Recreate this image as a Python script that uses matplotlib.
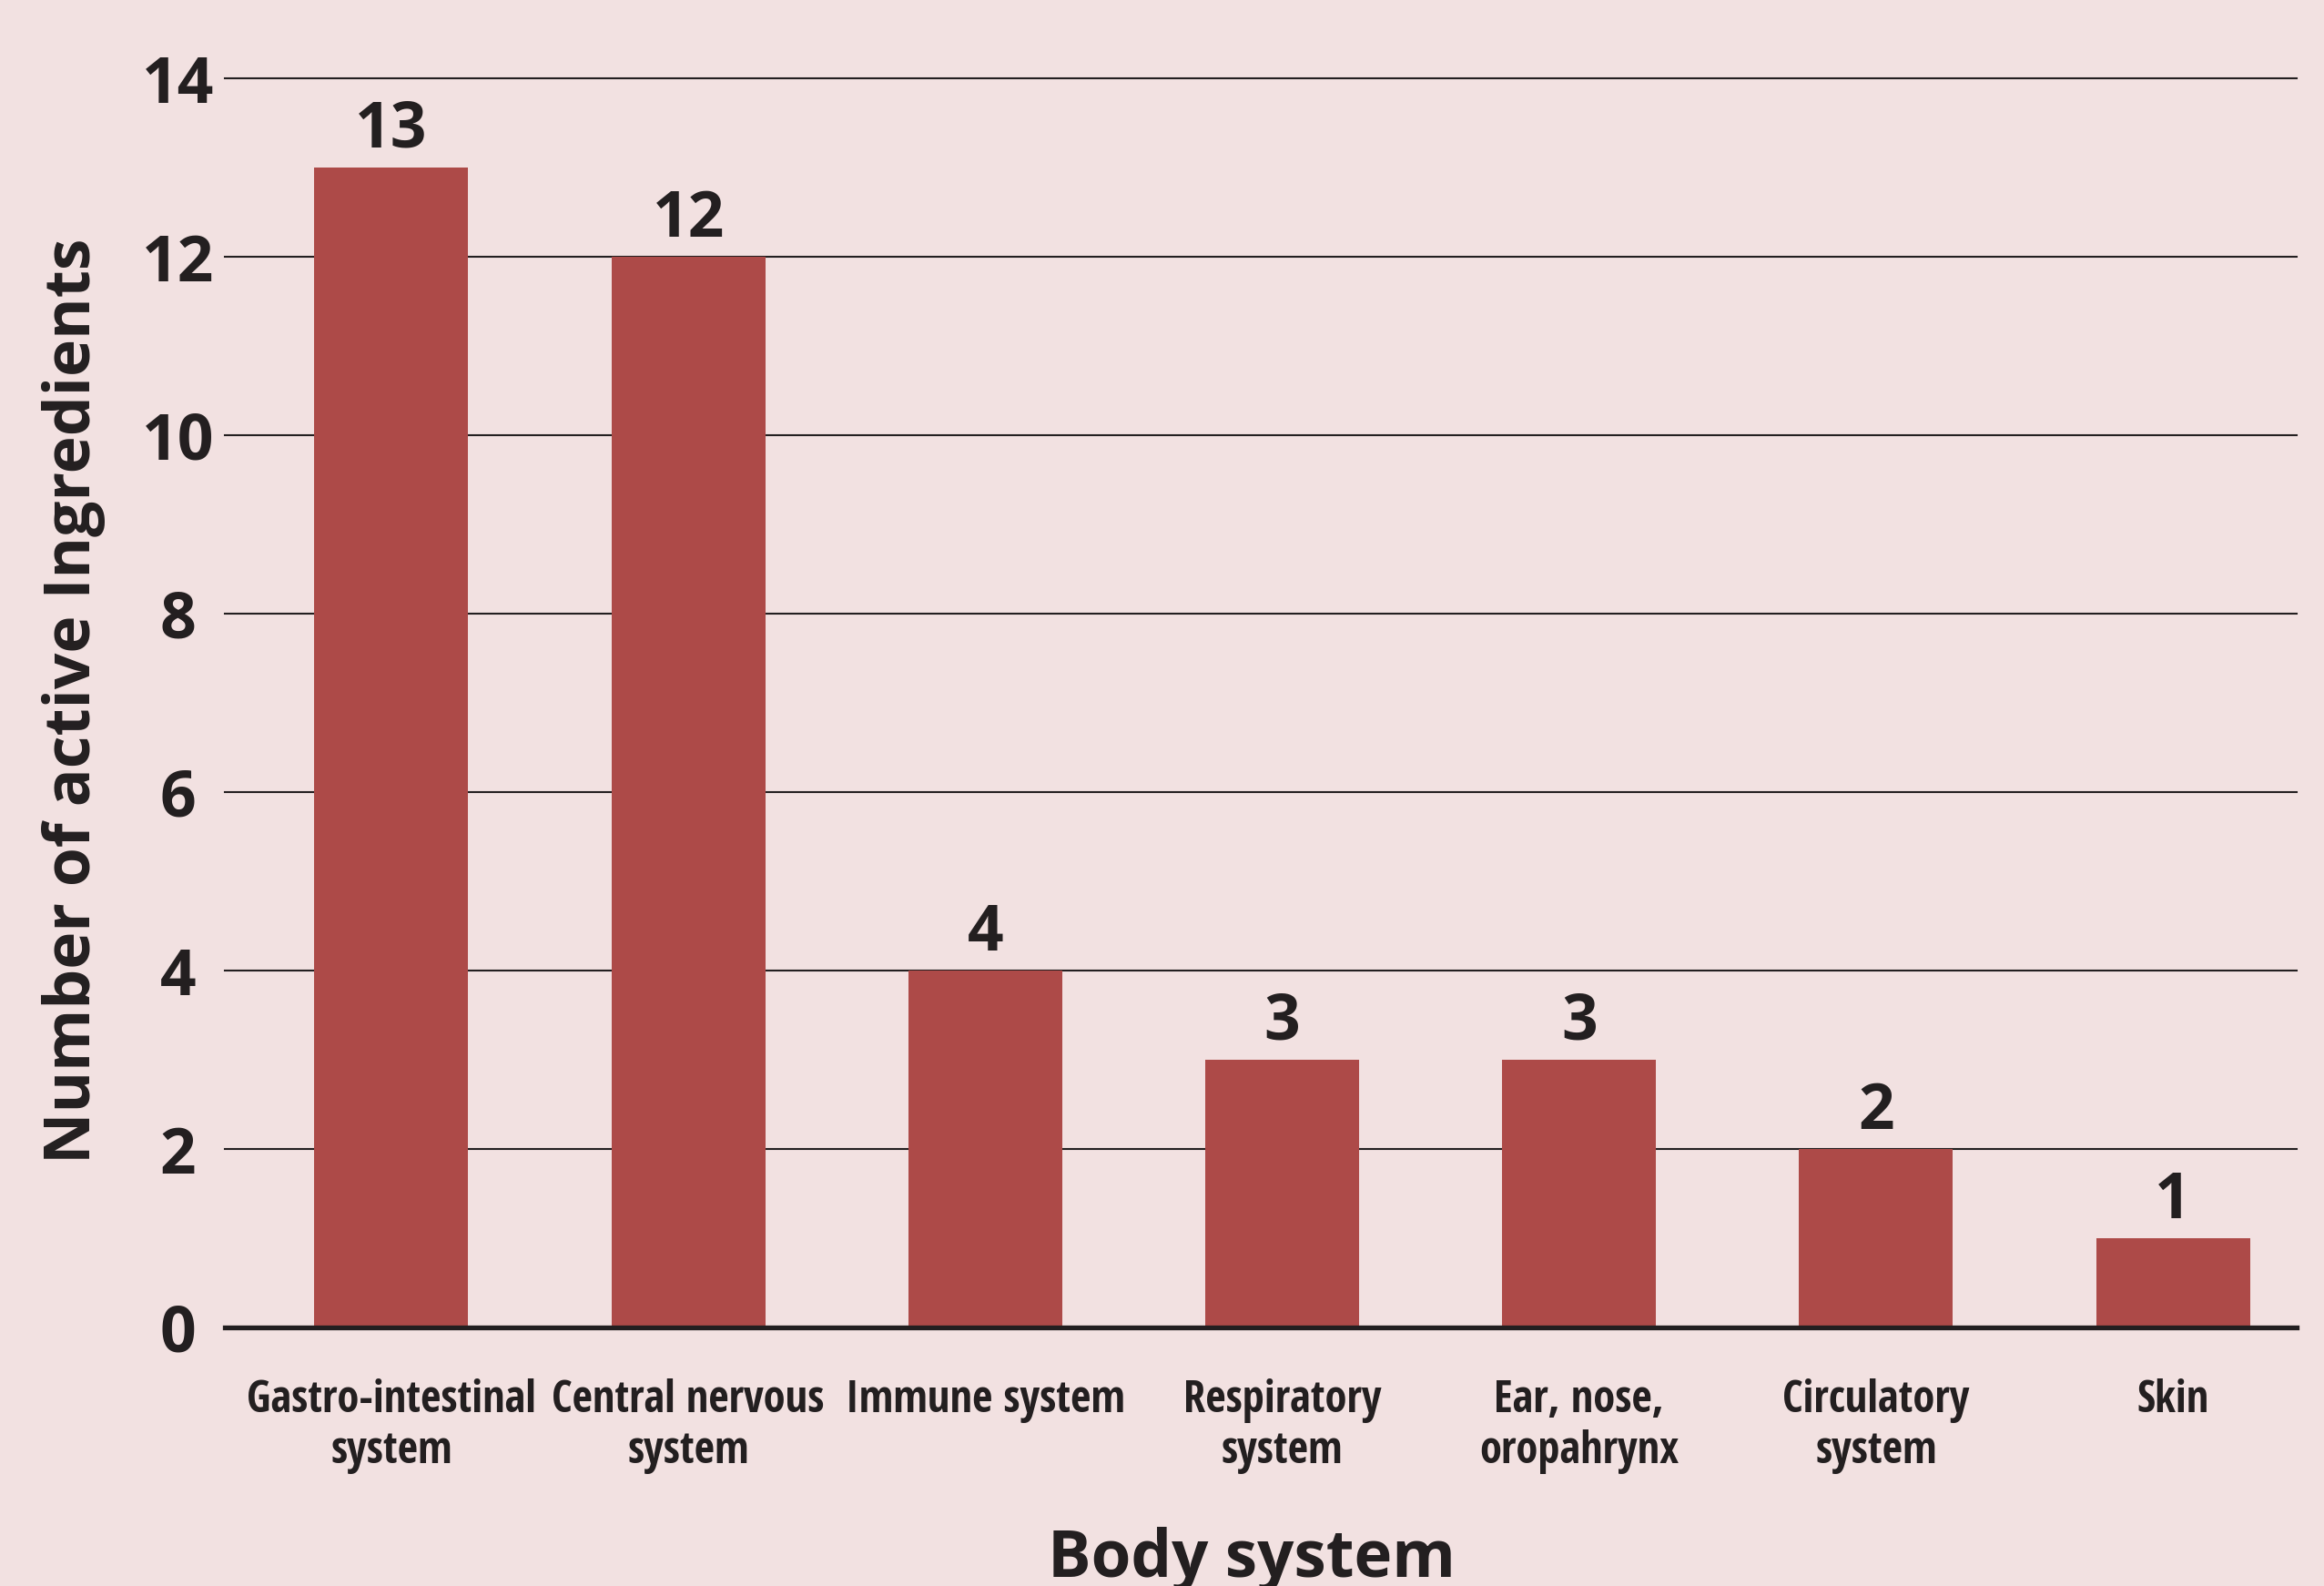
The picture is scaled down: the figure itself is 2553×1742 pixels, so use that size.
"""Bar chart: number of active ingredients per body system."""
import numpy as np
import matplotlib
matplotlib.use("Agg")
import matplotlib.pyplot as plt
from matplotlib import font_manager

# data
systems = ['Gastro-intestinal\nsystem', 'Central nervous\nsystem', 'Immune system',
           'Respiratory\nsystem', 'Ear, nose,\noropahrynx', 'Circulatory\nsystem', 'Skin']
counts = [13, 12, 4, 3, 3, 2, 1]
y_ticks = [0, 2, 4, 6, 8, 10, 12, 14]

# colours
bg_color = '#F2E1E1'
bar_color = '#AD4A48'
ink = '#231F20'


def pick_narrow_font():
    """Find a condensed bold face for the category labels, if one is installed."""
    for name in ['Open Sans Condensed', 'Liberation Sans Narrow', 'Roboto Condensed']:
        try:
            font_manager.findfont(font_manager.FontProperties(family=name, weight='bold'),
                                  fallback_to_default=False)
            return {'family': name}, 35
        except ValueError:
            pass
    # DejaVu ships a condensed cut under the same family name
    path = font_manager.findfont(font_manager.FontProperties(family='DejaVu Sans', weight='bold',
                                                             stretch='condensed'))
    if 'Condensed' in path:
        return {'family': 'DejaVu Sans', 'fontstretch': 'condensed'}, 30
    return {'family': 'Roboto'}, 30


label_font, label_size = pick_narrow_font()

fig = plt.figure(figsize=(25.53, 17.42), dpi=100, facecolor=bg_color)
ax = fig.add_axes([0.0967, 0.1630, 0.9882 - 0.0967, 0.9506 - 0.1630])
ax.set_facecolor(bg_color)

x = np.arange(len(systems))
bars = ax.bar(x, counts, width=0.518, color=bar_color, zorder=3)

# value labels above each bar
for rect, val in zip(bars, counts):
    ax.annotate(str(val), (rect.get_x() + rect.get_width() / 2, rect.get_height()),
                xytext=(0, 16), textcoords='offset points', ha='center', va='baseline',
                fontsize=50, fontweight='bold', family='Open Sans', color=ink)

ax.set_xlim(-0.561, 6.416)
ax.set_ylim(0, 14)

# horizontal grid lines
ax.set_yticks(y_ticks)
ax.yaxis.grid(True, color=ink, linewidth=1.5, zorder=1)
ax.set_axisbelow(True)
for line in ax.get_ygridlines():
    line.set_clip_on(False)

for side in ['top', 'right', 'left']:
    ax.spines[side].set_visible(False)
ax.spines['bottom'].set_color(ink)
ax.spines['bottom'].set_linewidth(3.8)
ax.spines['bottom'].set_zorder(4)

# y tick labels are centred in a column left of the axis
ax.tick_params(axis='y', length=0, pad=37, labelsize=50, labelcolor=ink)
for lab in ax.get_yticklabels():
    lab.set_fontweight('bold')
    lab.set_family('Open Sans')
    lab.set_horizontalalignment('center')

ax.set_xticks(x)
ax.set_xticklabels(systems, fontsize=label_size, fontweight='bold', color=ink,
                   linespacing=1.2, **label_font)
ax.tick_params(axis='x', length=0, pad=40)

# axis titles
fig.text(99 / 2553, 1 - 770 / 1742, 'Number of active Ingredients', rotation=90,
         rotation_mode='anchor', ha='center', va='baseline', fontsize=50,
         fontweight='bold', family='Open Sans', color=ink)
fig.text(1375 / 2553, 1 - 1732 / 1742, 'Body system', ha='center', va='baseline',
         fontsize=51, fontweight='bold', family='Open Sans', color=ink)

fig.savefig('out.png', dpi=100, facecolor=bg_color)
